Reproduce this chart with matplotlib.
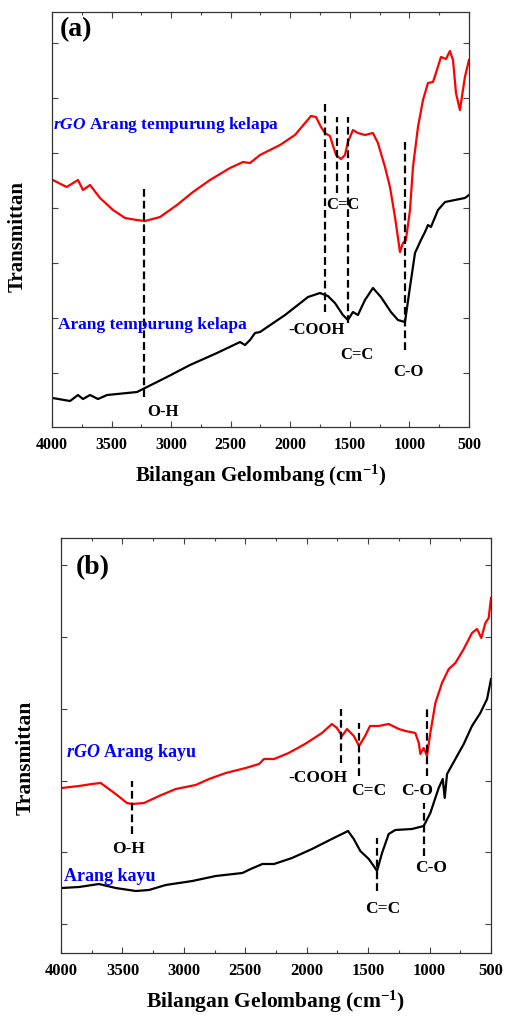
import numpy as np
import matplotlib
matplotlib.use('Agg')
import matplotlib.pyplot as plt
from matplotlib.ticker import MultipleLocator

plt.rcParams['font.family'] = ['Liberation Serif', 'DejaVu Serif']
plt.rcParams['font.weight'] = 'bold'
plt.rcParams['mathtext.fontset'] = 'custom'
plt.rcParams['mathtext.rm'] = 'Liberation Serif:bold'
plt.rcParams['mathtext.bf'] = 'Liberation Serif:bold'
plt.rcParams['mathtext.it'] = 'Liberation Serif:bold:italic'

# (a) tempurung kelapa - wavenumber (cm-1) and transmittance (a.u.)
wn_a_rgo = [3994, 3877, 3782, 3740, 3681, 3597, 3488, 3387, 3287, 3219, 3093, 2951, 2817, 2674,
            2506, 2397, 2338, 2254, 2086, 1961, 1826, 1784, 1742, 1709, 1667, 1616, 1574, 1541,
            1516, 1474, 1432, 1373, 1306, 1264, 1205, 1163, 1121, 1079, 1054, 1029, 995, 970,
            928, 886, 844, 802, 777, 735, 693, 660, 634, 609, 576, 534, 500]
t_a_rgo = [247, 240, 247, 237, 242, 229, 217, 209, 207, 206, 210, 222, 235, 247,
           259, 265, 264, 272, 282, 292, 311, 310, 300, 294, 291, 272, 268, 272,
           285, 297, 294, 292, 294, 284, 260, 240, 210, 175, 184, 187, 217, 260,
           300, 327, 344, 345, 354, 370, 368, 376, 367, 334, 317, 350, 367]

wn_a_raw = [3994, 3849, 3782, 3740, 3681, 3614, 3538, 3371, 3287, 3203, 3035, 2842, 2615, 2422,
            2380, 2338, 2296, 2254, 2044, 1851, 1751, 1684, 1625, 1558, 1516, 1474, 1432, 1373,
            1306, 1239, 1155, 1096, 1037, 995, 953, 903, 869, 844, 819, 760, 701, 618, 534, 500]
t_a_raw = [29, 26, 32, 28, 32, 28, 32, 34, 35, 40, 50, 62, 74, 85,
           82, 87, 94, 95, 112, 130, 134, 131, 124, 112, 107, 115, 112, 127,
           139, 130, 115, 107, 105, 140, 174, 187, 195, 202, 200, 217, 225, 227, 229, 232]

# (b) arang kayu
wn_b_rgo = [3994, 3853, 3748, 3677, 3555, 3463, 3422, 3324, 3202, 3066, 2944, 2904, 2795, 2659,
            2497, 2388, 2348, 2266, 2147, 2014, 1876, 1795, 1754, 1713, 1672, 1617, 1574, 1525,
            1485, 1414, 1333, 1251, 1197, 1116, 1088, 1075, 1048, 1021, 994, 953, 899, 844,
            790, 722, 655, 614, 579, 546, 519, 500]
t_b_rgo = [165, 167, 169, 170, 159, 150, 149, 150, 157, 164, 167, 168, 174, 180,
           185, 189, 194, 194, 200, 209, 220, 229, 225, 217, 224, 217, 207, 217,
           227, 227, 229, 224, 222, 220, 210, 199, 205, 197, 220, 250, 270, 284,
           290, 304, 320, 324, 315, 330, 335, 355]

wn_b_raw = [3994, 3853, 3691, 3555, 3392, 3284, 3148, 2931, 2741, 2524, 2456, 2361, 2266, 2120,
            1957, 1780, 1713, 1664, 1617, 1564, 1495, 1455, 1428, 1387, 1333, 1279, 1143, 1048,
            994, 926, 893, 877, 858, 790, 722, 655, 587, 532, 500]
t_b_raw = [65, 66, 69, 65, 62, 63, 68, 72, 77, 80, 84, 89, 89, 95,
           104, 115, 119, 122, 114, 102, 94, 87, 82, 100, 119, 123, 124, 127,
           140, 165, 174, 155, 179, 194, 209, 227, 240, 254, 274]

# peak markers: wavenumber, bottom, top
peaks_a = [(3225, 30, 240), (1711, 115, 324), (1608, 234, 310), (1518, 104, 310), (1035, 77, 287)]
peaks_b = [(3425, 119, 172), (1721, 190, 244), (1572, 177, 230), (1018, 177, 245),
           (1428, 62, 115), (1043, 97, 150)]

# labels: text, wavenumber (left edge), y
labels_a = [('O-H', 3203, 15), ('-COOH', 2019, 97), ('C=C', 1583, 72), ('C-O', 1138, 55),
            ('C=C', 1700, 222)]
labels_b = [('O-H', 3585, 104), ('-COOH', 2152, 175), ('C=C', 1639, 162), ('C-O', 1232, 162),
            ('C-O', 1118, 85), ('C=C', 1525, 44)]

fig = plt.figure(figsize=(5.06, 10.16), dpi=100)
ax1 = fig.add_axes([0.1028, 0.5797, 0.824, 0.4085])
ax2 = fig.add_axes([0.1206, 0.062, 0.8498, 0.4085])

dash = (0, (3.5, 1.8))


def style_axes(ax, yticks, ylim, fs_tick, fs_lab, pad):
    ax.set_xlim(4000, 500)
    ax.set_ylim(*ylim)
    ax.xaxis.set_major_locator(MultipleLocator(500))
    ax.xaxis.set_minor_locator(MultipleLocator(250))
    ax.set_yticks(yticks)
    ax.set_yticklabels([])
    ax.tick_params(which='both', direction='in', top=True, right=True, width=0.8, color='#444444')
    ax.tick_params(which='major', length=4)
    ax.tick_params(which='minor', length=2.5)
    ax.tick_params(axis='x', labelsize=fs_tick, pad=7)
    for s in ax.spines.values():
        s.set_linewidth(0.9)
        s.set_color('#333333')
    for lab in ax.get_xticklabels():
        lab.set_fontweight('bold')
    ax.set_xlabel(r'Bilangan Gelombang (cm$^{-1}$)', fontsize=fs_lab, fontweight='bold', labelpad=pad)
    ax.set_ylabel('Transmittan', fontsize=fs_lab, fontweight='bold')


# panel (a)
ax1.plot(wn_a_rgo, t_a_rgo, color='red', lw=1.6)
ax1.plot(wn_a_raw, t_a_raw, color='black', lw=1.6)
for w, y0, y1 in peaks_a:
    ax1.plot([w, w], [y0, y1], color='black', lw=1.6, linestyle=dash)
for txt, w, y in labels_a:
    ax1.text(w, y, txt, fontsize=12, fontweight='bold', ha='left', va='center')
ax1.text(3933, 397, '(a)', fontsize=20, fontweight='bold', ha='left', va='center')
ax1.text(3992, 302, r'$\it{rGO}$ Arang tempurung kelapa', color='blue', fontsize=12.5,
         fontweight='bold', ha='left', va='center')
ax1.text(3950, 102, 'Arang tempurung kelapa', color='blue', fontsize=12.5,
         fontweight='bold', ha='left', va='center')
style_axes(ax1, np.arange(54, 400, 55), (0, 415), 11.5, 15, 7)
ax1.yaxis.set_label_coords(-0.058, 0.46)

# panel (b)
ax2.plot(wn_b_rgo, t_b_rgo, color='red', lw=1.6)
ax2.plot(wn_b_raw, t_b_raw, color='black', lw=1.6)
for w, y0, y1 in peaks_b:
    ax2.plot([w, w], [y0, y1], color='black', lw=1.6, linestyle=dash)
for txt, w, y in labels_b:
    ax2.text(w, y, txt, fontsize=12.5, fontweight='bold', ha='left', va='center')
ax2.text(3878, 385, '(b)', fontsize=20, fontweight='bold', ha='left', va='center')
ax2.text(3959, 200, r'$\it{rGO}$ Arang kayu', color='blue', fontsize=13,
         fontweight='bold', ha='left', va='center')
ax2.text(3976, 77, 'Arang kayu', color='blue', fontsize=13,
         fontweight='bold', ha='left', va='center')
style_axes(ax2, np.arange(29, 400, 71.7), (0, 415), 12, 15.5, 7)
ax2.yaxis.set_label_coords(-0.06, 0.47)

fig.savefig('out.png', dpi=100)
